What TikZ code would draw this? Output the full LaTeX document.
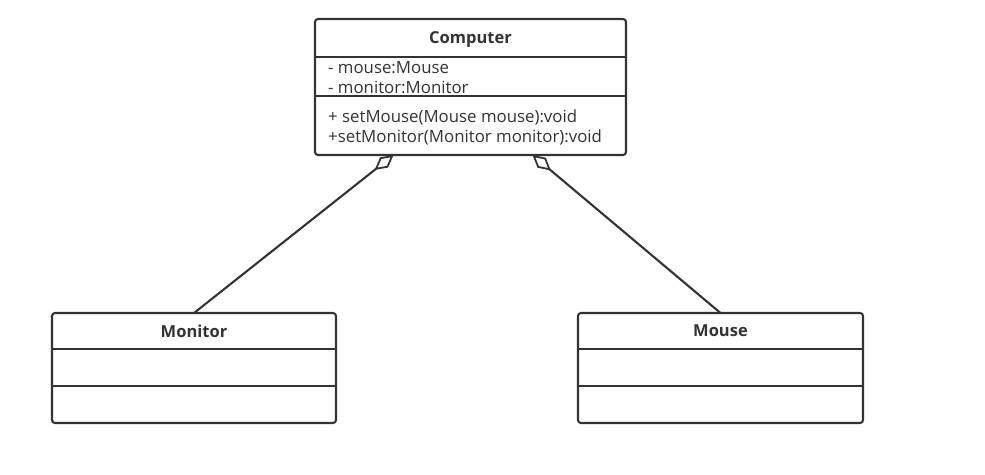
\documentclass[tikz,border=0pt]{standalone}
\usepackage{fontspec}
\setmainfont{Open Sans}
\usetikzlibrary{arrows.meta,calc}
\definecolor{umlgray}{HTML}{333333}
\tikzset{
  classline/.style = {line width=2.1pt, draw=umlgray},
  classpart/.style = {inner sep=0pt, outer sep=0pt},
  classtitle/.style = {classpart, text depth=0pt, font=\fontsize{16.5}{20}\selectfont\bfseries, text=umlgray},
  member/.style = {inner sep=0pt, align=left, font=\fontsize{16.8}{20}\selectfont, text=umlgray},
  aggregation/.style = {classline, {Diamond[open,length=24pt,width=13pt,line width=1.8pt]}-}
}
% name, top left corner, width, title height, attr height, ops height, title
\def\drawclass#1#2#3#4#5#6#7{%
  \node [classtitle, minimum width=#3, minimum height=#4, anchor=north west] (#1) at (#2) {#7};
  \node [classpart, minimum width=#3, minimum height=#5, anchor=north] (#1-attr) at (#1.south) {};
  \node [classpart, minimum width=#3, minimum height=#6, anchor=north] (#1-ops) at (#1-attr.south) {};
  \draw [classline, rounded corners=3pt] (#1.north west) rectangle (#1-ops.south east);
  \draw [classline] (#1.south west) -- (#1.south east);
  \draw [classline] (#1-attr.south west) -- (#1-attr.south east);
}

\begin{document}
\begin{tikzpicture}[x=1pt, y=-1pt]
  \useasboundingbox (0,0) rectangle (985,474);

  \drawclass{computer}{315,19}{311}{38}{39}{59}{Computer}
  \drawclass{monitor}{52,313}{284}{36}{37}{37}{Monitor}
  \drawclass{mouse}{578,313}{285}{36}{37}{37}{Mouse}

  \node [member, anchor=west] (computer-fields) at ($(computer-attr.west)+(13,1.5)$)
    {- mouse:Mouse\\- monitor:Monitor};
  \node [member, anchor=west] (computer-methods) at ($(computer-ops.west)+(13,1.5)$)
    {+ setMouse(Mouse mouse):void\\+setMonitor(Monitor monitor):void};

  \coordinate (agg-monitor) at ($(computer-ops.south)+(-77,0)$);
  \coordinate (agg-mouse) at ($(computer-ops.south)+(62,0)$);
  \draw [aggregation] (agg-monitor) -- (monitor.north);
  \draw [aggregation] (agg-mouse) -- (mouse.north);

\end{tikzpicture}
\end{document}
